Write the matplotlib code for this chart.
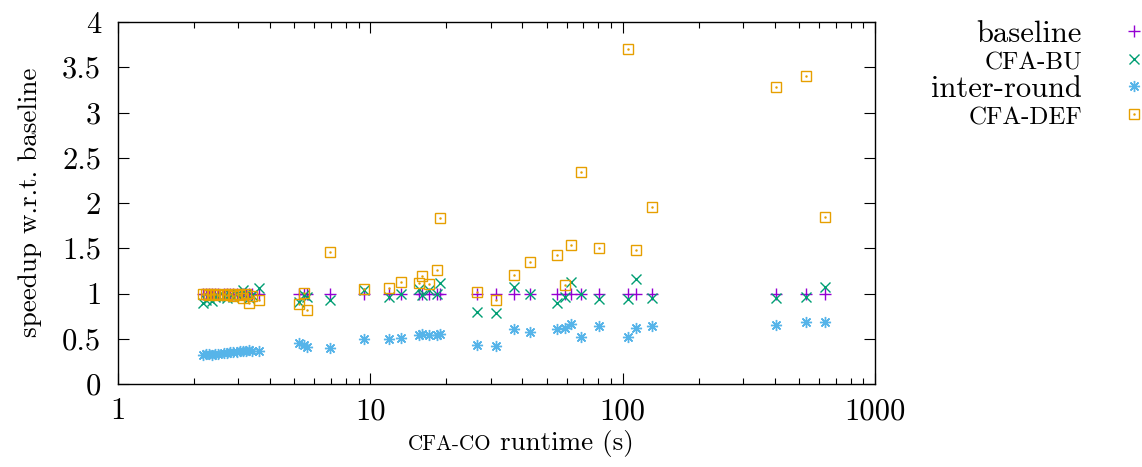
import matplotlib
matplotlib.use("Agg")
import matplotlib.pyplot as plt
from matplotlib.ticker import FixedLocator, FuncFormatter, LogLocator, NullFormatter
from matplotlib.offsetbox import TextArea, HPacker, AnchoredOffsetbox

plt.rcParams['font.family'] = ['cmr10', 'DejaVu Serif']
plt.rcParams['mathtext.fontset'] = 'cm'
plt.rcParams['axes.formatter.use_mathtext'] = True

# CFA-CO runtime (s) of each benchmark
runtime = [2.17, 2.23, 2.30, 2.36, 2.43, 2.50, 2.63, 2.71, 2.78, 2.86, 2.97, 3.05, 3.13, 3.22, 3.31, 3.40, 3.63,
           5.23, 5.47, 5.62, 6.94, 9.46, 11.9, 13.3, 15.6, 16.0, 17.1, 18.4, 18.9,
           26.6, 31.6, 37.0, 42.8, 54.9, 59.0, 62.2, 68.6, 81.0, 105, 113, 131, 405, 532, 634]

baseline = [1.0] * len(runtime)

cfa_bu = [0.90, 0.93, 0.95, 0.92, 0.96, 0.97, 0.97, 0.95, 0.98, 0.96, 1.00, 0.97, 1.04, 1.00, 0.95, 0.98, 1.06,
          0.91, 0.98, 0.96, 0.93, 1.04, 0.96, 1.00, 1.05, 0.98, 1.04, 0.99, 1.12,
          0.80, 0.78, 1.07, 0.99, 0.89, 0.96, 1.13, 1.00, 0.94, 0.94, 1.16, 0.95, 0.95, 0.96, 1.07]

inter_round = [0.32, 0.33, 0.33, 0.32, 0.33, 0.33, 0.34, 0.34, 0.35, 0.35, 0.35, 0.36, 0.36, 0.37, 0.38, 0.36, 0.37,
               0.45, 0.43, 0.41, 0.40, 0.50, 0.50, 0.51, 0.54, 0.55, 0.54, 0.54, 0.55,
               0.43, 0.42, 0.61, 0.57, 0.61, 0.62, 0.66, 0.52, 0.64, 0.52, 0.62, 0.64, 0.65, 0.69, 0.69]

cfa_def = [0.99, 1.00, 0.98, 0.99, 1.00, 0.98, 0.99, 0.98, 0.99, 0.97, 0.99, 0.98, 0.95, 1.00, 0.89, 0.97, 0.93,
           0.88, 1.01, 0.82, 1.46, 1.05, 1.06, 1.13, 1.12, 1.19, 1.11, 1.26, 1.83,
           1.02, 0.93, 1.21, 1.35, 1.42, 1.09, 1.54, 2.34, 1.50, 3.70, 1.48, 1.96, 3.28, 3.40, 1.85]

x_ticks = [1, 10, 100, 1000]
y_ticks = [0, 0.5, 1, 1.5, 2, 2.5, 3, 3.5, 4]

FS = 22      # tick labels and legend
LFS = 19.5   # axis labels
SC = 0.82    # "small caps" shrink

fig = plt.figure(figsize=(11.42, 4.67), dpi=100)
ax = fig.add_axes([0.1031, 0.1777, 0.6631, 0.7752])

h_base, = ax.plot(runtime, baseline, ls='none', marker='+', ms=8, mew=1.0, color='#9400D3')
h_bu, = ax.plot(runtime, cfa_bu, ls='none', marker='x', ms=7, mew=1.0, color='#009E73')
h_ir, = ax.plot(runtime, inter_round, ls='none', marker=(8, 2, 0), ms=8, mew=1.0, color='#56B4E9')
h_def, = ax.plot(runtime, cfa_def, ls='none', marker='s', ms=6.5, mew=1.0, mfc='none', color='#E69F00')
h_dot, = ax.plot(runtime, cfa_def, ls='none', marker='.', ms=1.5, color='#E69F00')

ax.set_xscale('log')
ax.set_xlim(1, 1000)
ax.set_ylim(0, 4)
ax.xaxis.set_major_locator(FixedLocator(x_ticks))
ax.xaxis.set_minor_locator(LogLocator(base=10, subs=range(2, 10)))
ax.xaxis.set_major_formatter(FuncFormatter(lambda v, p: '%g' % v))
ax.xaxis.set_minor_formatter(NullFormatter())
ax.yaxis.set_major_locator(FixedLocator(y_ticks))
ax.yaxis.set_major_formatter(FuncFormatter(lambda v, p: '%g' % v))

ax.tick_params(which='both', direction='in', top=True, right=True, labelsize=FS, width=0.8)
ax.tick_params(which='major', length=8)
ax.tick_params(which='minor', length=4)
ax.tick_params(axis='y', pad=12)
ax.tick_params(axis='x', pad=10)
for s in ax.spines.values():
    s.set_linewidth(1.0)

fig.text(30 / 1142, 1 - 202 / 467, 'speedup w.r.t. baseline', rotation=90,
         ha='center', va='center', fontsize=LFS)

# x label with small caps imitation
lab = HPacker(children=[TextArea('CFA-CO', textprops=dict(fontsize=LFS * 0.78)),
                        TextArea(' runtime (s)', textprops=dict(fontsize=LFS))],
              align='baseline', pad=0, sep=0)
abox = AnchoredOffsetbox(loc='center', child=lab, frameon=False, pad=0,
                         bbox_to_anchor=(0.532, -0.165), bbox_transform=ax.transAxes)
ax.add_artist(abox)

leg = fig.legend([h_base, h_bu, h_ir, (h_def, h_dot)],
                 ['baseline', 'CFA-BU', 'inter-round', 'CFA-DEF'],
                 loc='upper right', bbox_to_anchor=(1.017, 0.983), frameon=False,
                 markerfirst=False, fontsize=FS, handlelength=1.0, handletextpad=1.2,
                 labelspacing=0.02, borderaxespad=0.0)
for t in leg.get_texts()[1::2]:
    t.set_fontsize(FS * SC)

fig.savefig('out.png', dpi=100, facecolor='white')
